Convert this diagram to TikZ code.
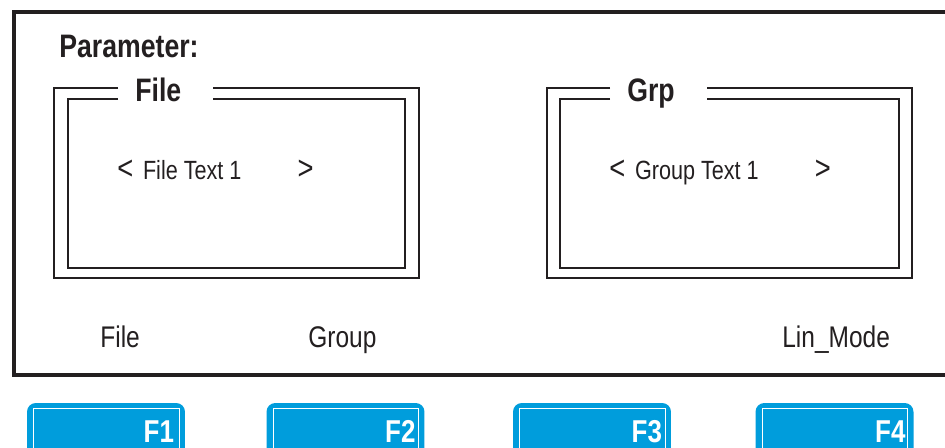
\documentclass[tikz,border=0pt]{standalone}
\usepackage{fontspec}
\setmainfont{Liberation Sans}[FakeStretch=0.82]
\usetikzlibrary{positioning, calc}

\definecolor{inkdark}{RGB}{35,31,32}
\definecolor{keyblue}{RGB}{0,157,220}

\newcommand{\selbrack}[1]{{\fontsize{19}{20}\selectfont#1}}

\tikzstyle{heading} = [font=\bfseries\fontsize{18.5}{21}\selectfont, inner sep=0pt, anchor=base west, text=inkdark]
\tikzstyle{entry} = [font=\fontsize{15}{17}\selectfont, inner sep=0pt, anchor=base west, text=inkdark]
\tikzstyle{softkey} = [font=\fontsize{17}{19}\selectfont, inner sep=0pt, anchor=base west, text=inkdark]
\tikzstyle{keycap} = [rectangle, rounded corners=5pt, fill=keyblue, minimum width=3.16cm, minimum height=1.24cm, inner sep=0pt]
\tikzstyle{keylabel} = [font=\bfseries\fontsize{18}{20}\selectfont, text=white, inner sep=0pt, anchor=base east]
\tikzstyle{keyrim} = [draw=white, line width=0.6pt]
\tikzstyle{boxline} = [line width=1.2pt, draw=inkdark]
\tikzstyle{frame} = [line width=2.5pt, draw=inkdark]

\begin{document}
\begin{tikzpicture}[x=0.02cm, y=-0.02cm]
\useasboundingbox (0,0) rectangle (945,448);
\clip (0,0) rectangle (945,448);

% Display frame
\draw [frame] (14,12) rectangle (965,375);

% Parameter boxes
\draw [boxline] (118,88) -| (54,278) -| (419,88) -- (213,88);
\draw [boxline] (118,99) -| (68,268) -| (405,99) -- (213,99);
\draw [boxline] (610,88) -| (547,278) -| (912,88) -- (707,88);
\draw [boxline] (610,99) -| (560,268) -| (899,99) -- (707,99);

% Nodes
\node (param) [heading] at (59,58) {Parameter:};
\node (filetitle) [heading] at (135,102) {File};
\node (grptitle) [heading] at (627,102) {Grp};

\node (filetext) [entry] at (117,180) {\selbrack{<}\hspace{5.5pt}File Text 1\hspace{32pt}\selbrack{>}};
\node (grptext) [entry] at (609,180) {\selbrack{<}\hspace{5.5pt}Group Text 1\hspace{32pt}\selbrack{>}};

\node (sk1) [softkey] at (100,348) {File};
\node (sk2) [softkey] at (308,348) {Group};
\node (sk4) [softkey] at (782,348) {Lin\_Mode};

% Function keys
\node (f1) [keycap] at (106,434) {};
\node (f2) [keycap] at (345.5,434) {};
\node (f3) [keycap] at (592,434) {};
\node (f4) [keycap] at (834.5,434) {};

\foreach \k in {f1,f2,f3,f4} {
  \draw [keyrim] ($(\k.north west)+(7,6)$) rectangle ($(\k.south east)+(-6,-6)$);
}

\node [keylabel] at ($(f1.north east)+(-11,40)$) {F1};
\node [keylabel] at ($(f2.north east)+(-9,40)$) {F2};
\node [keylabel] at ($(f3.north east)+(-9,40)$) {F3};
\node [keylabel] at ($(f4.north east)+(-8,40)$) {F4};

\end{tikzpicture}
\end{document}
